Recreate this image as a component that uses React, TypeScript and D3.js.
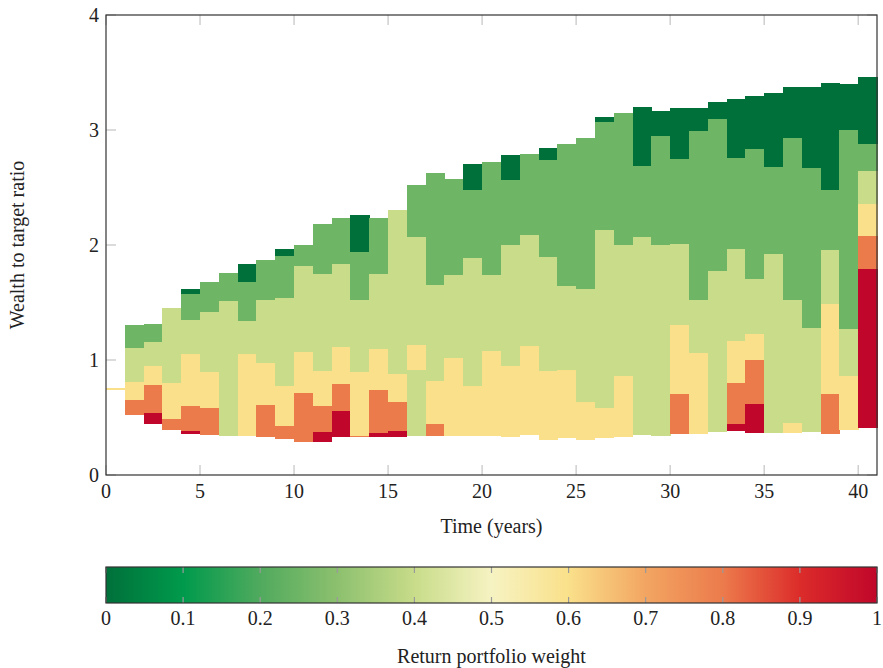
import * as d3 from "d3";

// weight levels used by the cells
const D = 0;
const M = 0.25;
const L = 0.4;
const Y = 0.6;
const O = 0.8;
const R = 1;

// column start year (each column is one year wide)
const years = d3.range(1, 41);

// boundaries of the stacked segments, bottom to top (wealth to target ratio)
const columnEdges = [
  [0.522, 0.652, 0.809, 1.107, 1.304],
  [0.443, 0.539, 0.783, 0.948, 1.157, 1.313],
  [0.391, 0.487, 0.8, 1.455],
  [0.359, 0.385, 0.6, 1.052, 1.348, 1.574, 1.617],
  [0.348, 0.583, 0.896, 1.417, 1.678],
  [0.339, 1.513, 1.757],
  [0.339, 1.052, 1.339, 1.678, 1.835],
  [0.33, 0.609, 0.974, 1.522, 1.87],
  [0.313, 0.426, 0.774, 1.539, 1.904, 1.965],
  [0.287, 0.713, 1.07, 1.817, 2.0],
  [0.287, 0.374, 0.6, 0.904, 1.748, 2.183],
  [0.33, 0.557, 0.791, 1.113, 1.835, 2.235],
  [0.33, 0.339, 0.896, 1.522, 1.939, 2.261],
  [0.33, 0.365, 0.739, 1.096, 1.748, 2.235],
  [0.33, 0.383, 0.635, 0.878, 2.304],
  [0.339, 0.913, 1.13, 2.07, 2.522],
  [0.339, 0.443, 0.817, 1.652, 2.626],
  [0.339, 1.017, 1.739, 2.574],
  [0.339, 0.774, 1.887, 2.478, 2.704],
  [0.339, 1.078, 1.739, 2.722],
  [0.33, 0.948, 2.0, 2.565, 2.783],
  [0.348, 1.122, 2.087, 2.791],
  [0.304, 0.904, 1.896, 2.739, 2.843],
  [0.322, 0.913, 1.643, 2.878],
  [0.304, 0.635, 1.617, 2.93],
  [0.322, 0.583, 2.13, 3.07, 3.113],
  [0.33, 0.861, 2.0, 3.148],
  [0.348, 2.07, 2.687, 3.2],
  [0.339, 2.0, 2.948, 3.165],
  [0.357, 0.704, 1.304, 2.009, 2.748, 3.191],
  [0.357, 1.061, 1.522, 2.991, 3.191],
  [0.374, 1.774, 3.096, 3.243],
  [0.383, 0.443, 0.8, 1.165, 1.965, 2.757, 3.27],
  [0.365, 0.617, 1.0, 1.226, 1.704, 2.835, 3.296],
  [0.365, 1.922, 2.678, 3.322],
  [0.365, 0.452, 1.522, 2.93, 3.374],
  [0.374, 1.278, 2.67, 3.374],
  [0.357, 0.704, 1.487, 1.957, 2.478, 3.409],
  [0.391, 0.861, 1.27, 3.0, 3.4],
  [0.409, 1.791, 2.078, 2.357, 2.643, 2.878, 3.461],
];

// weight of each segment, bottom to top
const columnWeights = [
  [O, Y, L, M],
  [R, O, Y, L, M],
  [O, Y, L],
  [R, O, Y, L, M, D],
  [O, Y, L, M],
  [L, M],
  [Y, L, M, D],
  [O, Y, L, M],
  [O, Y, L, M, D],
  [O, Y, L, M],
  [R, O, Y, L, M],
  [R, O, Y, L, M],
  [O, Y, L, M, D],
  [R, O, Y, L, M],
  [R, O, Y, L],
  [L, Y, L, M],
  [O, Y, L, M],
  [Y, L, M],
  [Y, L, M, D],
  [Y, L, M],
  [Y, L, M, D],
  [Y, L, M],
  [Y, L, M, D],
  [Y, L, M],
  [Y, L, M],
  [Y, L, M, D],
  [Y, L, M],
  [L, M, D],
  [L, M, D],
  [O, Y, L, M, D],
  [Y, L, M, D],
  [L, M, D],
  [R, O, Y, L, M, D],
  [R, O, Y, L, M, D],
  [L, M, D],
  [Y, L, M, D],
  [L, M, D],
  [O, Y, L, M, D],
  [Y, L, M, D],
  [R, O, Y, L, M, D],
];

// starting wealth, year 0 to 1
const startEdges = [0.74, 0.76];
const startWeight = Y;

const xTicks = [0, 5, 10, 15, 20, 25, 30, 35, 40];
const yTicks = [0, 1, 2, 3, 4];
const cbTicks = [0, 0.1, 0.2, 0.3, 0.4, 0.5, 0.6, 0.7, 0.8, 0.9, 1];

const cmapStops = [0, 0.1, 0.2, 0.3, 0.4, 0.5, 0.6, 0.7, 0.8, 0.9, 1];
const cmapColors = [
  "#00703a",
  "#009a4c",
  "#50aa5e",
  "#8cc06e",
  "#c8dc8a",
  "#f6f3c2",
  "#fae08a",
  "#f2a562",
  "#ec7b4c",
  "#dc2c2a",
  "#c0062a",
];

const FONT = "'Liberation Serif', 'DejaVu Serif', serif";

export default function App() {
  const left = 106;
  const right = 877;
  const top = 15;
  const bottom = 475;
  const cbTop = 567;
  const cbBottom = 603;

  const x = d3.scaleLinear().domain([0, 41]).range([left, right]);
  const y = d3.scaleLinear().domain([0, 4]).range([bottom, top]);
  const cbX = d3.scaleLinear().domain([0, 1]).range([left, right]);
  const color = d3
    .scaleLinear<string>()
    .domain(cmapStops)
    .range(cmapColors)
    .interpolate(d3.interpolateRgb);

  const cells: { x0: number; x1: number; y0: number; y1: number; c: string }[] = [];
  years.forEach((yr, i) => {
    const edges = columnEdges[i];
    columnWeights[i].forEach((w, j) => {
      cells.push({
        x0: x(yr),
        x1: x(yr + 1),
        y0: y(edges[j]),
        y1: y(edges[j + 1]),
        c: color(w),
      });
    });
  });

  const gradStops = d3.range(0, 1.0001, 0.02);

  return (
    <svg
      width={883}
      height={668}
      style={{ position: "absolute", left: 0, top: 0, background: "#fff" }}
      fontFamily={FONT}
    >
      <defs>
        <linearGradient id="cmap" x1="0" x2="1" y1="0" y2="0">
          {gradStops.map((t) => (
            <stop key={t} offset={`${t * 100}%`} stopColor={color(t)} />
          ))}
        </linearGradient>
      </defs>

      {/* ticks */}
      <g stroke="#c4c4c4" strokeWidth={1.2}>
        {yTicks.map((t) => (
          <g key={t}>
            <line x1={left} x2={left + 10} y1={y(t)} y2={y(t)} />
            <line x1={right} x2={right - 10} y1={y(t)} y2={y(t)} />
          </g>
        ))}
        {xTicks.map((t) => (
          <g key={t}>
            <line x1={x(t)} x2={x(t)} y1={bottom} y2={bottom - 10} />
            <line x1={x(t)} x2={x(t)} y1={top} y2={top + 10} />
          </g>
        ))}
      </g>

      {/* cells */}
      <g shapeRendering="crispEdges">
        <rect
          x={x(0)}
          width={x(1) - x(0)}
          y={y(startEdges[1])}
          height={y(startEdges[0]) - y(startEdges[1])}
          fill={color(startWeight)}
        />
        {cells.map((c, i) => (
          <rect
            key={i}
            x={c.x0}
            width={c.x1 - c.x0 + 0.5}
            y={c.y1}
            height={c.y0 - c.y1 + 0.3}
            fill={c.c}
          />
        ))}
      </g>

      {/* frame */}
      <rect
        x={left}
        y={top}
        width={right - left}
        height={bottom - top}
        fill="none"
        stroke="#333"
        strokeWidth={1.2}
      />

      {/* tick labels */}
      <g fontSize={20} fill="#222">
        {yTicks.map((t) => (
          <text key={t} x={left - 7} y={y(t)} textAnchor="end" dominantBaseline="central">
            {t}
          </text>
        ))}
        {xTicks.map((t) => (
          <text key={t} x={x(t)} y={bottom + 16} textAnchor="middle" dominantBaseline="central">
            {t}
          </text>
        ))}
        <text x={(left + right) / 2} y={526} textAnchor="middle" dominantBaseline="central">
          Time (years)
        </text>
        <text
          transform={`translate(17, ${(top + bottom) / 2}) rotate(-90)`}
          textAnchor="middle"
          dominantBaseline="central"
        >
          Wealth to target ratio
        </text>
      </g>

      {/* colorbar */}
      <rect
        x={left}
        y={cbTop}
        width={right - left}
        height={cbBottom - cbTop}
        fill="url(#cmap)"
      />
      <g stroke="#9a9a9a" strokeWidth={1.2}>
        {cbTicks.map((t) => (
          <g key={t}>
            <line x1={cbX(t)} x2={cbX(t)} y1={cbTop} y2={cbTop + 6} />
            <line x1={cbX(t)} x2={cbX(t)} y1={cbBottom} y2={cbBottom - 6} />
          </g>
        ))}
      </g>
      <rect
        x={left}
        y={cbTop}
        width={right - left}
        height={cbBottom - cbTop}
        fill="none"
        stroke="#333"
        strokeWidth={1.2}
      />
      <g fontSize={20} fill="#222">
        {cbTicks.map((t) => (
          <text key={t} x={cbX(t)} y={cbBottom + 15} textAnchor="middle" dominantBaseline="central">
            {t}
          </text>
        ))}
        <text x={(left + right) / 2} y={656} textAnchor="middle" dominantBaseline="central">
          Return portfolio weight
        </text>
      </g>
    </svg>
  );
}
